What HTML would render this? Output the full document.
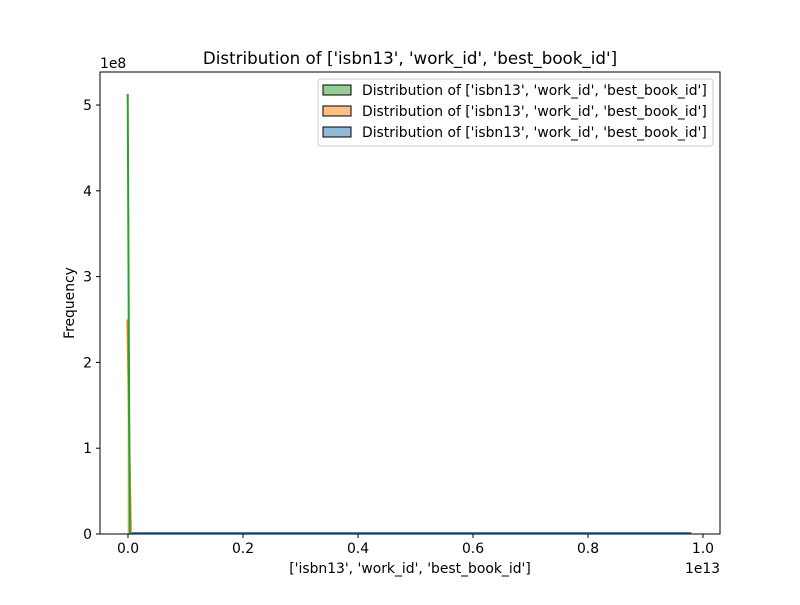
<!DOCTYPE html>
<html><head><meta charset="utf-8"><style>body{margin:0;background:#fff}svg text{font-family:"DejaVu Sans","Liberation Sans",sans-serif;fill:#000}</style></head>
<body>
<svg id="chart" width="800" height="600" viewBox="0 0 800 600">
<rect width="800" height="600" fill="#fff"/>
<text x="410" y="64" font-size="16.7" text-anchor="middle">Distribution of ['isbn13', 'work_id', 'best_book_id']</text>
<g id="marks"></g>
<g id="axes"></g>
<text x="410" y="573" font-size="13.9" text-anchor="middle">['isbn13', 'work_id', 'best_book_id']</text>
<text x="0" y="0" font-size="13.9" text-anchor="middle" transform="translate(74,303) rotate(-90)">Frequency</text>
<text x="685" y="573" font-size="13.9">1e13</text>
<text x="100" y="68" font-size="13.9">1e8</text>
<g>
<rect x="318" y="79" width="395" height="67" rx="3" fill="#fff" fill-opacity="0.8" stroke="#ccc"/>
<rect x="323" y="85" width="28" height="10" fill="#2ca02c" fill-opacity="0.5" stroke="#000"/>
<text x="362" y="95" font-size="13.9">Distribution of ['isbn13', 'work_id', 'best_book_id']</text>
<rect x="323" y="106" width="28" height="10" fill="#ff7f0e" fill-opacity="0.5" stroke="#000"/>
<text x="362" y="116" font-size="13.9">Distribution of ['isbn13', 'work_id', 'best_book_id']</text>
<rect x="323" y="127" width="28" height="10" fill="#1f77b4" fill-opacity="0.5" stroke="#000"/>
<text x="362" y="137" font-size="13.9">Distribution of ['isbn13', 'work_id', 'best_book_id']</text>
</g>
</svg>
<script>
const xTicks=[0.0,0.2,0.4,0.6,0.8,1.0];
const xTickLabels=["0.0","0.2","0.4","0.6","0.8","1.0"];
const yTicks=[0,1,2,3,4,5];
const yTickLabels=["0","1","2","3","4","5"];
const blueX=[0.003,0.98];
const blueY=[0.01,0.01];
const orangeX=[-0.001,0.005];
const orangeY=[2.5,0];
const greenX=[-0.0005,0.003];
const greenY=[5.13,0];
const L=100,R=720,T=72,B=534,xmin=-0.0487,xmax=1.0296,ymin=0,ymax=5.385;
const sx=v=>L+(v-xmin)/(xmax-xmin)*(R-L);
const sy=v=>B-(v-ymin)/(ymax-ymin)*(B-T);
const NS="http://www.w3.org/2000/svg";
const marks=document.getElementById('marks'),axes=document.getElementById('axes');
function mk(t,a,p){const e=document.createElementNS(NS,t);for(const k in a)e.setAttribute(k,a[k]);p.appendChild(e);return e;}
function series(xs,ys,c,n){
 const pts=xs.map((x,i)=>sx(x)+','+sy(ys[i])).join(' ');
 const f=mk('polygon',{points:sx(xs[0])+','+sy(0)+' '+pts+' '+sx(xs[xs.length-1])+','+sy(0),fill:c,'fill-opacity':0.25},marks);
 
 
 const l=mk('polyline',{points:pts,fill:'none',stroke:c,'stroke-width':2},marks);
 
 
}
series(blueX,blueY,'#1f77b4','blue-series');
series(orangeX,orangeY,'#ff7f0e','orange-series');
series(greenX,greenY,'#2ca02c','green-series');
const fr=mk('rect',{x:L,y:T,width:R-L,height:B-T,fill:'none',stroke:'#000','stroke-width':1},axes);


xTicks.forEach((v,i)=>{const x=sx(v);
 const t=mk('line',{x1:x,x2:x,y1:B,y2:B+4,stroke:'#000'},axes);
 
 
 const s=mk('text',{x:x,y:B+19,'font-size':13.9,'text-anchor':'middle'},axes);s.textContent=xTickLabels[i];
 
 
});
yTicks.forEach((v,i)=>{const y=sy(v);
 const t=mk('line',{x1:L-4,x2:L,y1:y,y2:y,stroke:'#000'},axes);
 
 
 const s=mk('text',{x:L-8,y:y+5,'font-size':13.9,'text-anchor':'end'},axes);s.textContent=yTickLabels[i];
 
 
});
</script>
</body></html>
